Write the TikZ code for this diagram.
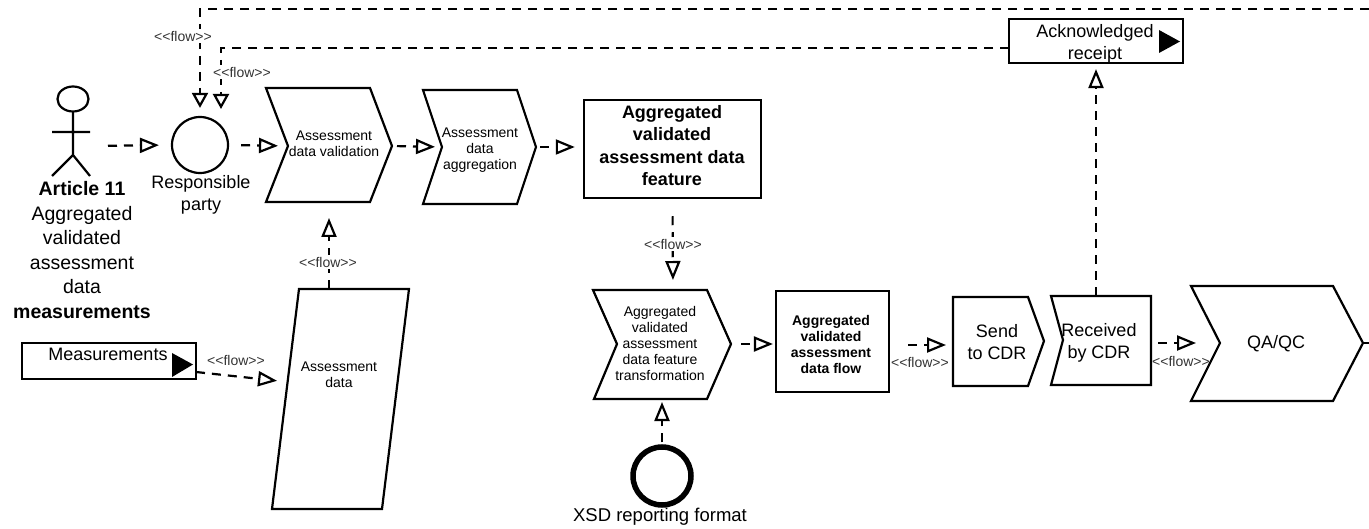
\documentclass[tikz,border=0pt]{standalone}
\usepackage{fontspec}
\setmainfont{Liberation Sans}
\usetikzlibrary{arrows.meta}
\newcommand{\flowtxt}{<{}<flow>{}>}
\tikzset{
  flow/.style={line width=2.2pt,dash pattern=on 9pt off 7pt,
    -{Triangle[open,fill=white,length=19pt,width=15pt]}},
  flowshort/.style={line width=2.2pt,dash pattern=on 9pt off 7pt,
    -{Triangle[open,fill=white,length=15pt,width=16pt]}},
  outline/.style={line width=2.2pt,line join=miter},
  flowlabel/.style={font=\fontsize{14}{16}\selectfont,text=black!80,inner sep=0pt},
  flowgap/.style={flowlabel,fill=white,inner sep=1.5pt},
  big/.style={font=\fontsize{18}{22}\selectfont,align=center,inner sep=0pt},
  small/.style={font=\fontsize{14}{16.2}\selectfont,align=center,inner sep=0pt},
  boxnode/.style={draw,line width=2.5pt,inner sep=0pt}
}
\begin{document}
\begin{tikzpicture}[x=1pt,y=-1pt]
  \useasboundingbox (0,0) rectangle (1369,529);
  % actor and party
  \draw[outline] (73,99) ellipse (15.5 and 12.5);
  \draw[outline] (73,112) -- (73,155) (52,132) -- (90,132) (52,176) -- (73,155) -- (90,176);
  \coordinate (actorhand) at (90,146);
  \node[big,font=\fontsize{19.5}{24.5}\selectfont] (actortxt) at (82,250)
    {\textbf{Article 11}\\Aggregated\\validated\\assessment\\data\\\textbf{measurements}};
  \node[circle,draw,line width=2.2pt,minimum size=56pt,inner sep=0pt] (party) at (200,145) {};
  \coordinate (partyb) at (221,117);
  \node[big] (partytxt) at (201,195) {Responsible\\party};
  % upper row
  \draw[outline] (266,88) -- (370,88) -- (392,146) coordinate (validout) -- (370,202) -- (266,202) -- (288,146) coordinate (validin) -- cycle;
  \node[small] (validtxt) at (334,144) {Assessment\\data validation};
  \coordinate (validbot) at (329,218);
  \draw[outline] (423,90) -- (517,90) -- (536,147) coordinate (aggrout) -- (517,204) -- (423,204) -- (442,147) coordinate (aggrin) -- cycle;
  \node[small] (aggrtxt) at (480,150) {Assessment\\data\\aggregation};
  \node[boxnode,minimum width=177pt,minimum height=98pt] (feature) at (672.5,149) {};
  \node[big,font=\fontsize{18}{22.2}\selectfont\bfseries] (featuretxt) at (672,145.5)
    {Aggregated\\validated\\assessment data\\feature};
  % lower row
  \draw[outline] (593,290) -- (707,290) -- (731,344) coordinate (transout) -- (707,399) -- (594,399) -- (617,344) coordinate (transin) -- cycle;
  \coordinate (transtop) at (673,290);
  \coordinate (transbot) at (662,399);
  \node[small,font=\fontsize{14}{16}\selectfont] (transtxt) at (660,343)
    {Aggregated\\validated\\assessment\\data feature\\transformation};
  \node[boxnode,line width=2.2pt,minimum width=113pt,minimum height=101pt] (flowbox) at (832.5,341.5) {};
  \node[small,font=\fontsize{14}{16.2}\selectfont\bfseries] (flowboxtxt) at (831,344.5)
    {Aggregated\\validated\\assessment\\data flow};
  \node[circle,draw,line width=5.5pt,minimum size=58pt,inner sep=0pt] (xsd) at (662,476) {};
  \node[big,font=\fontsize{18.5}{22}\selectfont] (xsdtxt) at (660,517) {XSD reporting format};
  \draw[outline] (953,297) -- (1028,297) -- (1044,341) -- (1028,386) -- (953,386) -- cycle;
  \coordinate (sendin) at (953,345);
  \node[big] (sendtxt) at (997,342) {Send\\to CDR};
  \draw[outline] (1051,296) -- (1151,296) -- (1151,385) -- (1051,385) -- (1063,340) -- cycle;
  \coordinate (recvtop) at (1096,296);
  \coordinate (recvout) at (1151,343);
  \node[big] (recvtxt) at (1099,343) {Received\\by CDR};
  \draw[outline] (1191,286) -- (1333,286) -- (1363,343) coordinate (qaout) -- (1333,401) -- (1191,401) -- (1220,343) coordinate (qain) -- cycle;
  \coordinate (offright) at (1369,343);
  \node[big] (qatxt) at (1276,344) {QA/QC};
  \draw[outline] (qaout) -- (offright);
  % acknowledged receipt
  \node[boxnode,line width=2.2pt,minimum width=174pt,minimum height=44pt] (ack) at (1096,41) {};
  \node[big] (acktxt) at (1095,44) {Acknowledged\\receipt};
  \fill (1159,30) -- (1180,41.5) -- (1159,53) -- cycle;
  \coordinate (ackin) at (1009,48);
  \coordinate (topright) at (1369,9);
  % measurements and data
  \node[boxnode,line width=2.2pt,minimum width=174pt,minimum height=36pt] (meas) at (109,361) {};
  \node[big] (meastxt) at (108,354) {Measurements};
  \fill (172,353) -- (193,364.5) -- (172,377) -- cycle;
  \coordinate (measout) at (196,372);
  \draw[outline] (299,289) -- (409,289) -- (382,509) -- (272,509) -- cycle;
  \coordinate (datatop) at (329,289);
  \coordinate (dataleft) at (288,382);
  \node[small] (datatxt) at (339,375) {Assessment\\data};
  % connectors
  \draw[flow,shorten <=18pt,shorten >=12pt] (actorhand) -- (party.west);
  \draw[flow,shorten <=12pt,shorten >=10pt] (party.east) -- (validin);
  \draw[flow,shorten <=5pt,shorten >=7pt] (validout) -- (aggrin);
  \draw[flow,shorten <=4pt,shorten >=8pt] (aggrout) -- (feature.west |- aggrout);
  \draw[flow,shorten <=17pt,shorten >=10pt] (feature.south) -- (transtop);
  \draw[flow,shorten <=10pt,shorten >=2pt] (transout) -- (flowbox.west |- transout);
  \draw[flow,shorten <=2pt,shorten >=3pt] (xsd.north) -- (transbot);
  \draw[flow,shorten <=18pt,shorten >=7pt] (flowbox.east |- sendin) -- (sendin);
  \draw[flow,shorten <=7pt,shorten >=24pt] (recvout) -- (qain);
  \draw[flow,shorten >=5pt] (recvtop) -- (ack.south);
  \draw[flowshort,shorten >=8pt] (topright) -| (party.north);
  \draw[flowshort,shorten >=8pt] (ackin) -| (partyb);
  \draw[flow] (datatop) -- (validbot);
  \draw[flow,shorten >=11pt] (measout) -- (dataleft);
  % flow labels
  \node[flowgap] (flowa) at (183,36) {\flowtxt};
  \node[flowgap] (flowb) at (242,72) {\flowtxt};
  \node[flowgap] (flowc) at (328,262) {\flowtxt};
  \node[flowlabel] (flowd) at (236,360) {\flowtxt};
  \node[flowgap] (flowe) at (673,244) {\flowtxt};
  \node[flowlabel] (flowf) at (920,362) {\flowtxt};
  \node[flowlabel] (flowg) at (1181,361) {\flowtxt};
\end{tikzpicture}
\end{document}
